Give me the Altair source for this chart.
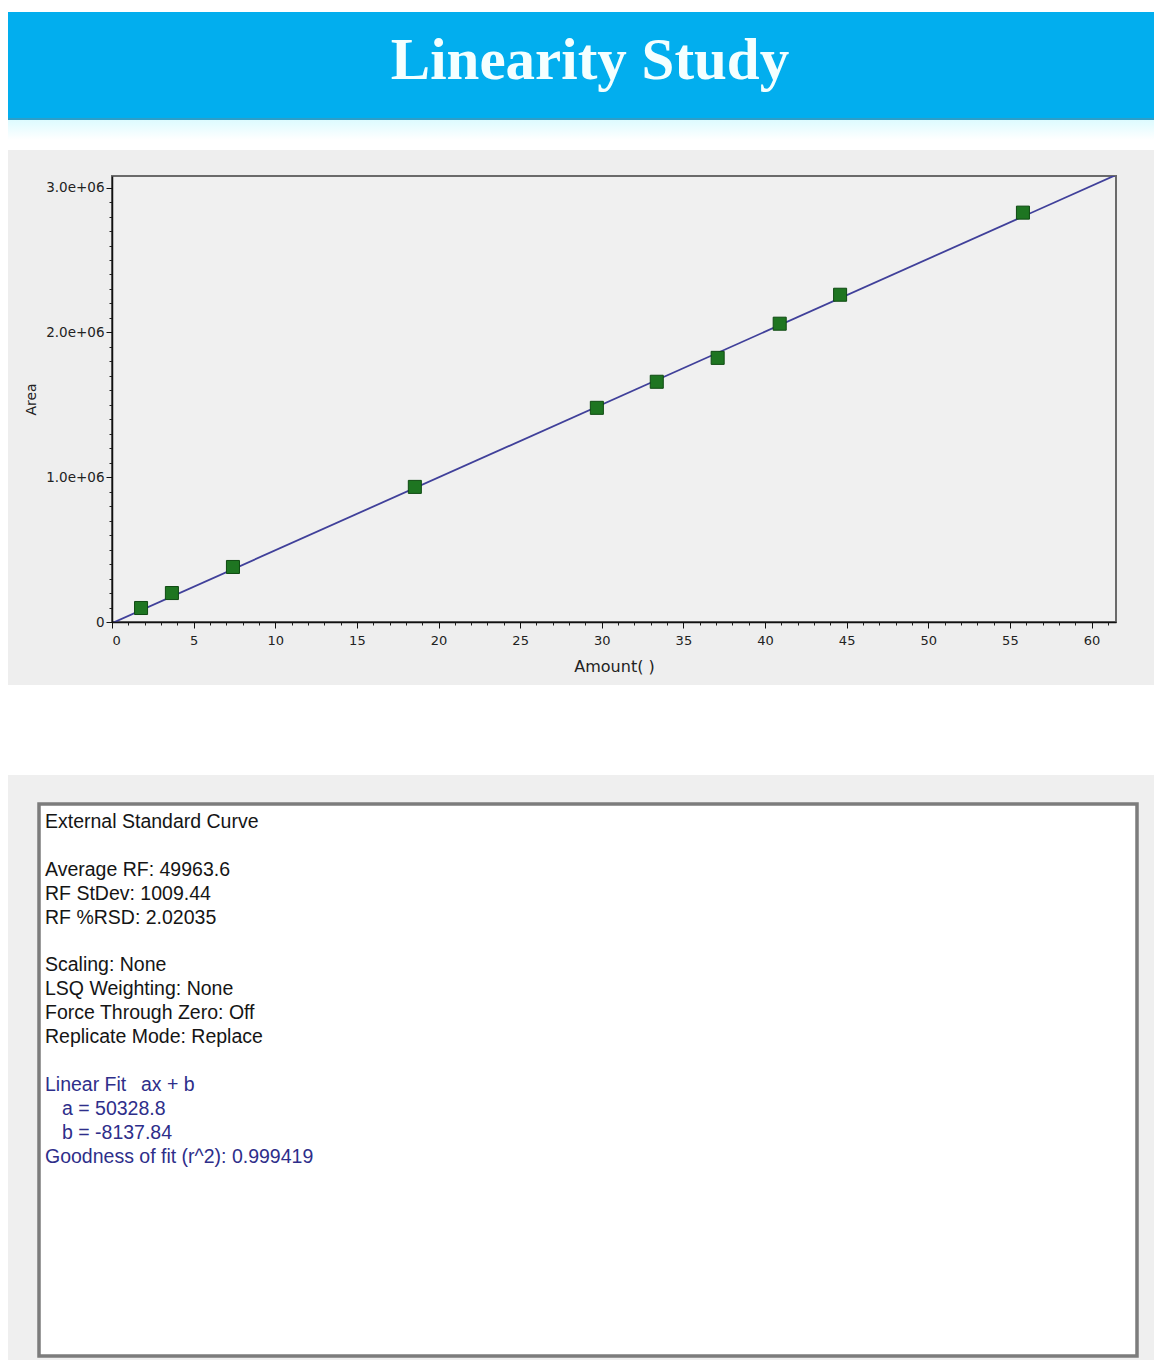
import altair as alt
import pandas as pd

# ---------------- data ----------------
amount = [1.78, 3.67, 7.41, 18.55, 29.7, 33.37, 37.1, 40.9, 44.6, 55.8]
area = [96700, 200000, 380000, 933000, 1479000, 1659000, 1824000, 2060000, 2260000, 2827000]

fit_a = 50328.8
fit_b = -8137.84
x_domain = [0, 61.5]
y_domain = [0, 3.08e6]

x_major_ticks = [0, 5, 10, 15, 20, 25, 30, 35, 40, 45, 50, 55, 60]
x_minor_ticks = list(range(0, 62))
y_major_ticks = [0, 1000000, 2000000, 3000000]
y_major_labels = ["0", "1.0e+06", "2.0e+06", "3.0e+06"]
y_minor_ticks = [i * 100000 for i in range(31)]

title_text = "Linearity Study"
x_title = "Amount( )"
y_title = "Area"

# report lines; "" is an empty line
report_lines = [
    "External Standard Curve",
    "",
    "Average RF: 49963.6",
    "RF StDev: 1009.44",
    "RF %RSD: 2.02035",
    "",
    "Scaling: None",
    "LSQ Weighting: None",
    "Force Through Zero: Off",
    "Replicate Mode: Replace",
    "",
    "Linear Fit",
    "a = 50328.8",
    "b = -8137.84",
    "Goodness of fit (r^2): 0.999419",
]
fit_formula = "ax + b"
first_fit_line = 11  # index where the blue (fit) section starts

# ---------------- layout (page pixels -> plot-area pixels) ----------------
PX0, PY0 = 112, 176          # page position of plot-area origin
W, H = 1004, 446             # plot area
PAD = {"left": PX0 - 8, "top": PY0 - 8, "right": 1146 - (PX0 - 8) - W,
       "bottom": 1352 - (PY0 - 8) - H}


def px(x):
    return x - PX0


def py(y):
    return y - PY0


one = pd.DataFrame({"k": [0]})
pts = pd.DataFrame({"amount": amount, "area": area})
fit_df = pd.DataFrame({"amount": x_domain,
                       "area": [fit_a * v + fit_b for v in x_domain]})

label_expr = " : ".join(
    f"datum.value == {v} ? '{l}'" for v, l in zip(y_major_ticks, y_major_labels)
) + " : ''"


def box(x1, x2, y1, y2, **kw):
    return alt.Chart(one).mark_rect(**kw).encode(
        x=alt.value(px(x1)), x2=alt.value(px(x2)),
        y=alt.value(py(y1)), y2=alt.value(py(y2)))


# banner
banner = box(0, 1160, 12, 120, color="#02AEEE")
banner_line = box(0, 1160, 118, 120, color="#2E9EC8")
banner_shadow = box(0, 1160, 120, 140, color=alt.Gradient(
    gradient="linear",
    stops=[alt.GradientStop(color="#DDFBFF", offset=0),
           alt.GradientStop(color="#FFFFFF", offset=1)],
    x1=0, x2=0, y1=0, y2=1))
banner_text = alt.Chart(one).mark_text(
    text=title_text, font="Liberation Serif", fontSize=59, fontWeight="bold",
    color="#F4FFFF", align="center", baseline="middle"
).encode(x=alt.value(px(590)), y=alt.value(py(61)))

# plot panel
plot_panel = box(7, 1160, 150, 685, color="#EEEEEE")
frame = alt.Chart(one).mark_rect(fill="#F0F0F0", stroke="#6A6A6A", strokeWidth=2).encode(
    x=alt.value(0), x2=alt.value(W), y=alt.value(0), y2=alt.value(H))

# text panel
text_panel = box(7, 1154, 775, 1370, color="#EFEFEF")
text_box = alt.Chart(one).mark_rect(fill="#FFFFFF", stroke="#7C7C7C", strokeWidth=3.5).encode(
    x=alt.value(px(39)), x2=alt.value(px(1137)),
    y=alt.value(py(804)), y2=alt.value(py(1356)))

FS = 19.5
LH = 23.9
Y_FIRST = 822   # page y of first line's centre
BLACK, NAVY = "#151515", "#2E2E8A"


def report_text(txt, idx, x_page, color):
    return alt.Chart(one).mark_text(
        text=txt, font="Liberation Sans", fontSize=FS, color=color,
        align="left", baseline="middle"
    ).encode(x=alt.value(px(x_page)), y=alt.value(py(Y_FIRST + idx * LH)))


text_layers = []
for i, line in enumerate(report_lines):
    if not line:
        continue
    color = NAVY if i >= first_fit_line else BLACK
    indent = 62 if line.startswith(("a =", "b =")) else 45
    text_layers.append(report_text(line, i, indent, color))
text_layers.append(report_text(fit_formula, first_fit_line, 141, NAVY))

# data layers
xs = alt.Scale(domain=x_domain, nice=False, zero=False)
ys = alt.Scale(domain=y_domain, nice=False, zero=False)

AXF = "DejaVu Sans"

fit_line = alt.Chart(fit_df).mark_line(color="#40409A", strokeWidth=1.8, clip=True).encode(
    x=alt.X("amount:Q", scale=xs, axis=alt.Axis(
        orient="bottom", values=x_minor_ticks, labels=False, domain=False, grid=False,
        tickSize=3, tickColor="#222222", tickWidth=1, title=None, zindex=1)),
    y=alt.Y("area:Q", scale=ys, axis=alt.Axis(
        orient="left", values=y_minor_ticks, labels=False, domain=False, grid=False,
        tickSize=3, tickColor="#222222", tickWidth=1, title=None, zindex=1)),
)

points = alt.Chart(pts).mark_point(
    shape="square", filled=True, size=170, color="#1E7521", stroke="#0F4A12",
    strokeWidth=1, opacity=1
).encode(
    x=alt.X("amount:Q", scale=xs, axis=alt.Axis(
        orient="bottom", values=x_major_ticks, grid=False, tickSize=6,
        tickColor="#111111", domainColor="#111111", domainWidth=1.5,
        labelFont=AXF, labelFontSize=13, labelColor="#222222",
        labelPadding=6, title=x_title, titleFont=AXF,
        titleFontSize=16, titleFontWeight="normal", titleColor="#222222",
        titlePadding=11, zindex=1)),
    y=alt.Y("area:Q", scale=ys, axis=alt.Axis(
        orient="left", values=y_major_ticks, labelExpr=label_expr, grid=False,
        tickSize=6, tickColor="#111111", domainColor="#111111", domainWidth=1.5,
        labelFont=AXF, labelFontSize=13.5, labelColor="#222222",
        labelPadding=2, title=y_title, titleFont=AXF,
        titleFontSize=14, titleFontWeight="normal", titleColor="#222222",
        titlePadding=7, zindex=1)),
)

chart = alt.layer(
    banner, banner_line, banner_shadow, banner_text,
    plot_panel, frame,
    text_panel, text_box, *text_layers,
    fit_line, points,
).resolve_axis(x="independent", y="independent").properties(
    width=W, height=H, padding=PAD, autosize=alt.AutoSizeParams(type="none"),
    background="#FFFFFF",
).configure_view(stroke=None)

chart.save("out.html", embed_options={"renderer": "svg", "actions": False})
